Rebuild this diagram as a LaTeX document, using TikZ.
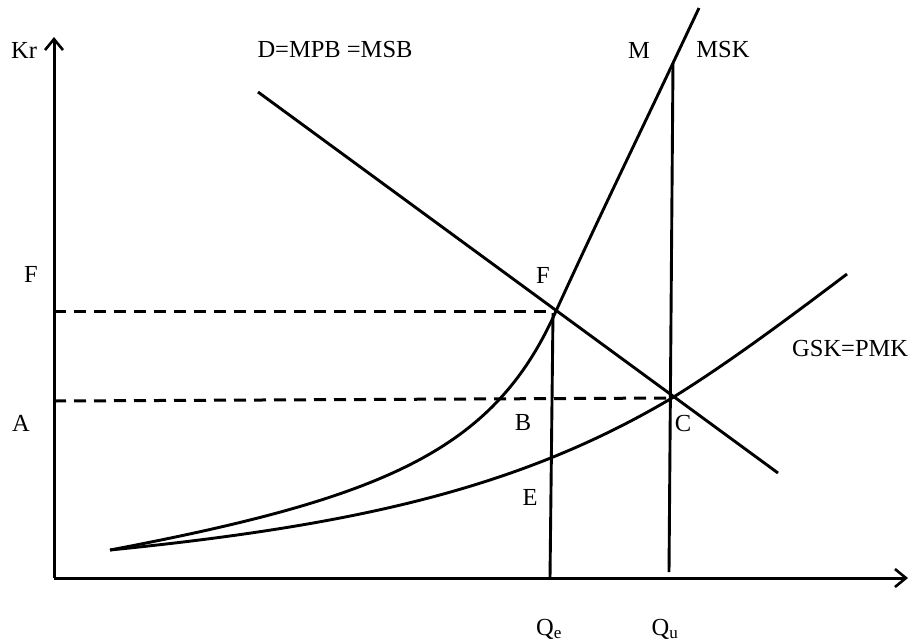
\documentclass[tikz,border=0pt]{standalone}
\usepackage{fontspec}
\setmainfont{Liberation Serif}
\usetikzlibrary{arrows.meta}
\begin{document}
\begin{tikzpicture}[x=1pt,y=-1pt,
  curve/.style={line width=2.9pt,line join=round},
  dashline/.style={line width=3pt,dash pattern=on 12pt off 8pt},
  axis/.style={line width=3pt,-{Straight Barb[length=11pt,width=18pt,line width=2.6pt]}},
  lbl/.style={inner sep=0pt,font=\fontsize{24.5}{28}\selectfont}]
\useasboundingbox (0,0) rectangle (909,641);
% axes
\coordinate (O) at (54,578);
\coordinate (ytop) at (54,37);
\coordinate (xend) at (908,578);
\draw[axis] (O) -- (ytop);
\draw[axis] (O) -- (xend);
% key points
\coordinate (S) at (110,550);
\coordinate (Fp) at (556,311);
\coordinate (Qet) at (553,313);
\coordinate (Cp) at (672,398);
\coordinate (Mp) at (673,63);
\coordinate (Mtop) at (699,8);
\coordinate (Gend) at (847,274);
\coordinate (Qeb) at (550,578);
\coordinate (Qub) at (669,572);
\coordinate (Fy) at (54,311);
\coordinate (Ay) at (54,401);
\coordinate (Dstart) at (258,92);
\coordinate (Dend) at (778,473);
% demand
\draw[curve] (Dstart) -- (Dend);
% MSK
\draw[curve] (S) .. controls (390,497) and (495,448) .. (Fp) .. controls (600,215) and (640,133) .. (Mp) -- (Mtop);
% GSK
\draw[curve] (S) .. controls (360,525) and (522,487) .. (Cp) .. controls (730,362) and (790,317) .. (Gend);
% dashed
\draw[dashline] (Fy) -- (Fp);
\draw[dashline] (Ay) -- (Cp);
% verticals
\draw[curve] (Qeb) -- (Qet);
\draw[curve] (Qub) -- (Mp);
% labels
\node[lbl] (kr) at (24,50) {Kr};
\node[lbl] (dlab) at (335,50) {D=MPB =MSB};
\node[lbl] (mlab) at (639,50) {M};
\node[lbl] (msk) at (723,50) {MSK};
\node[lbl] (fl) at (31,274) {F};
\node[lbl] (al) at (21,423) {A};
\node[lbl] (fc) at (543,275) {F};
\node[lbl] (bl) at (523,423) {B};
\node[lbl] (cl) at (683,423) {C};
\node[lbl] (el) at (530,497) {E};
\node[lbl,anchor=west] (gsk) at (792,348) {GSK=PMK};
\node[lbl] (qe) at (549,629) {Q\textsubscript{e}};
\node[lbl] (qu) at (665,629) {Q\textsubscript{u}};
\end{tikzpicture}
\end{document}
